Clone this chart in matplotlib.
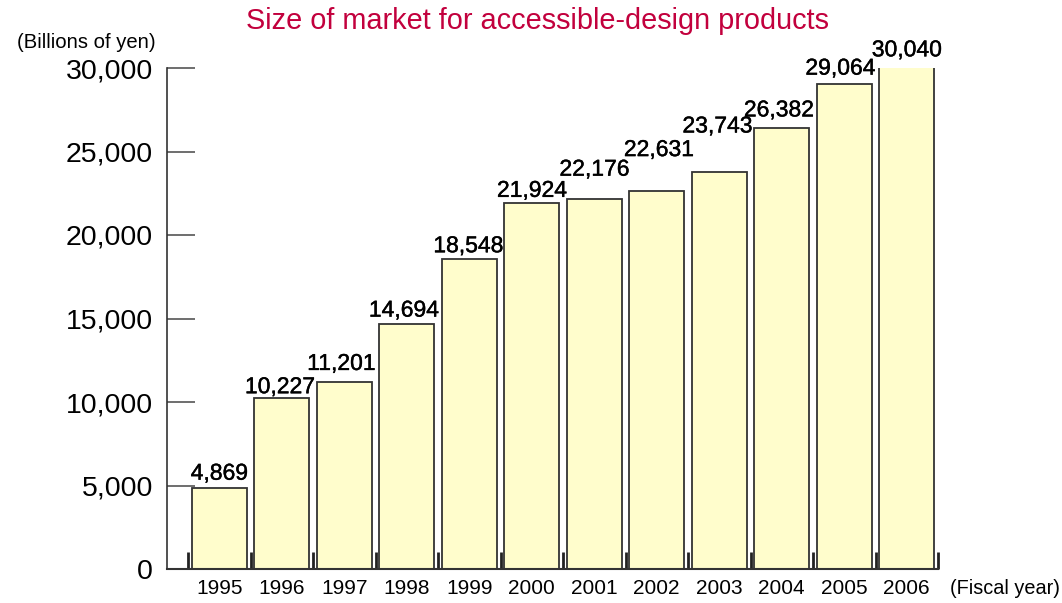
import numpy as np
import matplotlib.pyplot as plt
import matplotlib.patheffects as pe

# data
years = ['1995', '1996', '1997', '1998', '1999', '2000',
         '2001', '2002', '2003', '2004', '2005', '2006']
values = [4869, 10227, 11201, 14694, 18548, 21924,
          22176, 22631, 23743, 26382, 29064, 30040]
yticks = [0, 5000, 10000, 15000, 20000, 25000, 30000]

# label placement (pixels above bar top / sideways), staggered like the original
label_dy = [8, 5, 12, 7, 7, 6, 23, 35, 40, 12, 9, 11]
label_dx = [0, -2, -3, -3, -1, 0, 0, 2, -2, -3, -4, 0]

plt.rcParams['font.family'] = ['Liberation Sans', 'DejaVu Sans']

fig = plt.figure(figsize=(10.62, 6.03), dpi=100)
ax = fig.add_axes([167 / 1062, 34 / 603, 771 / 1062, 501 / 603])

x = np.arange(len(years))
bars = ax.bar(x, values, width=0.88, color='#FFFDCC', edgecolor='#333333', linewidth=1.3, zorder=2)

# slightly heavier than regular, like the medium weight in the original
thick = [pe.withStroke(linewidth=0.3, foreground='black')]
for xi, v, dy, dx in zip(x, values, label_dy, label_dx):
    ax.annotate(f'{v:,}', (xi, v), xytext=(dx, dy), textcoords='offset pixels',
                ha='center', va='baseline', fontsize=16.5, color='black',
                annotation_clip=False, path_effects=thick)

ax.set_xlim(-0.836, 11.5)
ax.set_ylim(0, 30000)

for s in ['top', 'right']:
    ax.spines[s].set_visible(False)
ax.spines['left'].set_color('#333333')
ax.spines['bottom'].set_color('#333333')
ax.spines['left'].set_linewidth(1.2)
ax.spines['bottom'].set_linewidth(1.5)

ax.set_yticks(yticks)
ax.set_yticklabels([f'{t:,}' for t in yticks], fontsize=20.5)
ax.tick_params(axis='y', direction='in', length=20, width=1.2, color='#555555', pad=10)

# x ticks at category boundaries, labels at centres
ax.set_xticks(np.arange(len(years) + 1) - 0.5)
ax.set_xticklabels([])
ax.set_xticks(x, minor=True)
ax.set_xticklabels(years, minor=True, fontsize=15)
ax.tick_params(axis='x', which='major', direction='in', length=12, width=2, color='#222222')
ax.tick_params(axis='x', which='minor', length=0, pad=7)

fig.text(538 / 1062, 0.965, 'Size of market for accessible-design products', ha='center', va='center',
         fontsize=20.8, color='#C2003D')
fig.text(17 / 1062, 1 - 42 / 603, '(Billions of yen)', ha='left', va='center', fontsize=14.6)
fig.text(950 / 1062, 1 - 589 / 603, '(Fiscal year)', ha='left', va='center', fontsize=14.3)

fig.savefig('out.png', dpi=100)
